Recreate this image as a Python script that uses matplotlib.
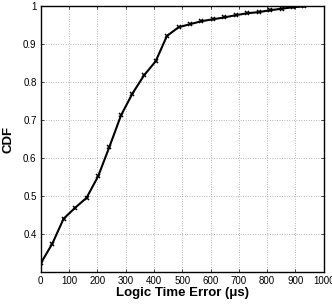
#!/usr/bin/env python3
import numpy as np
import matplotlib
matplotlib.use("Agg")
import matplotlib.pyplot as plt

# logic time error (us) and cumulative fraction
error_us = [0, 41, 81, 122, 162, 203, 243, 284, 324, 365, 406, 446, 487,
            527, 568, 608, 649, 690, 730, 771, 811, 852, 893, 930]
cdf = [0.322, 0.374, 0.440, 0.469, 0.495, 0.552, 0.630, 0.713, 0.770,
       0.818, 0.855, 0.922, 0.945, 0.953, 0.961, 0.966, 0.971, 0.977,
       0.982, 0.985, 0.990, 0.994, 0.998, 1.0]

x_ticks = [0, 100, 200, 300, 400, 500, 600, 700, 800, 900, 1000]
y_ticks = [0.4, 0.5, 0.6, 0.7, 0.8, 0.9, 1.0]
y_tick_labels = ["0.4", "0.5", "0.6", "0.7", "0.8", "0.9", "1"]


def main():
    plt.rcParams['font.family'] = ['Liberation Sans', 'DejaVu Sans']
    fig = plt.figure(figsize=(3.32, 3.06), dpi=100)
    ax = fig.add_axes([0.1226, 0.112, 0.8524, 0.867])

    ax.plot(error_us, cdf, color='black', linewidth=1.5, marker='x',
            markersize=3.5, markeredgewidth=1.1)

    ax.set_xlim(0, 1000)
    ax.set_ylim(0.3, 1.0)
    ax.set_xticks(x_ticks)
    ax.set_yticks(y_ticks)
    ax.set_yticklabels(y_tick_labels)
    ax.tick_params(direction='in', length=2.5, width=0.5, labelsize=7,
                   top=True, right=True, pad=3)
    ax.grid(True, linestyle=(0, (1, 2.5)), color='#777777', linewidth=0.5)
    for sp in ax.spines.values():
        sp.set_linewidth(1.0)

    ax.set_xlabel('Logic Time Error (μs)', fontsize=9.5, fontweight='bold',
                  labelpad=1)
    ax.set_ylabel('CDF', fontsize=9.5, fontweight='bold', labelpad=6)

    fig.savefig('out.png', dpi=100)


if __name__ == "__main__":
    main()
